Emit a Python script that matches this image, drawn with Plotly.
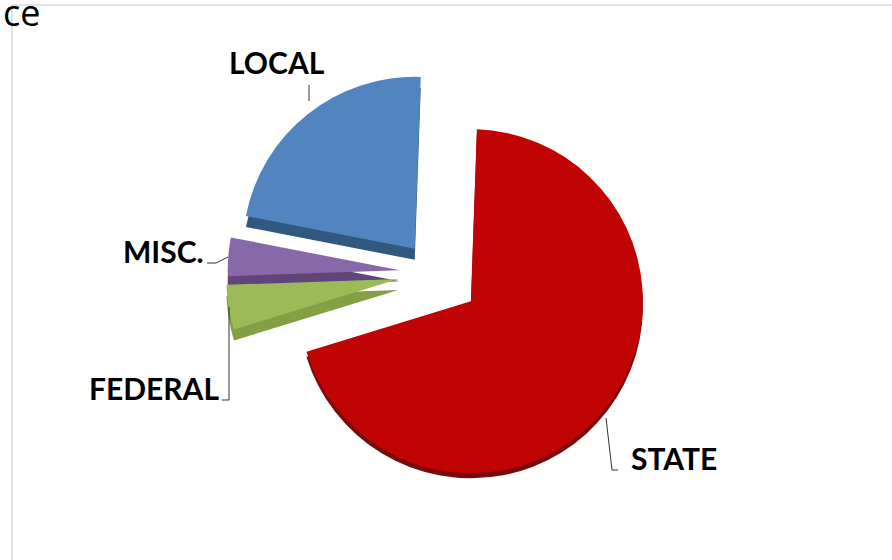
import plotly.graph_objects as go

W, H = 892, 560
categories = ["STATE", "FEDERAL", "MISC.", "LOCAL"]
values = [69.7, 4.2, 3.6, 22.5]
colors = ["#C00404", "#9BBB59", "#8868A8", "#5285BF"]
rims = ["#7A0A0A", "#84A044", "#5F4579", "#31587F"]
pulls = [0.27, 0.21, 0.2, 0.18]

CX, CY, R = 434, 273, 172
outer = R * (1 + max(pulls))


def dom(dy=0):
    return dict(
        x=[(CX - outer) / W, (CX + outer) / W],
        y=[1 - (CY + dy + outer) / H, 1 - (CY + dy - outer) / H],
    )


def pie(cols, dy):
    return go.Pie(
        labels=categories, values=values, sort=False, direction="clockwise",
        rotation=2, pull=pulls, domain=dom(dy), textinfo="none", hoverinfo="label+percent",
        marker=dict(colors=cols, line=dict(width=0)), showlegend=False,
    )


T = "rgba(0,0,0,0)"
fig = go.Figure([
    pie([T, rims[1], rims[2], rims[3]], 11),
    pie([rims[0], T, T, T], 5),
    pie(colors, 0),
])

label_font = dict(family="Lato, Roboto, sans-serif", size=30, color="#000000", weight="bold")
label_pos = [(674, 458), (154, 388), (163, 251), (277, 62)]
leaders = [
    [(606, 418), (612, 470), (618, 470)],
    [(229, 307), (229, 400), (222, 400)],
    [(228, 257), (216, 263), (207, 263)],
    [(309, 85), (309, 101)],
]
shapes = [
    dict(type="line", xref="paper", yref="paper", x0=12 / W, x1=12 / W, y0=0, y1=1 - 5 / H,
         line=dict(color="#C8C8C8", width=1)),
    dict(type="line", xref="paper", yref="paper", x0=12 / W, x1=1, y0=1 - 5 / H, y1=1 - 5 / H,
         line=dict(color="#C8C8C8", width=1)),
]
for pts in leaders:
    path = "M " + " L ".join(f"{x / W} {1 - y / H}" for x, y in pts)
    shapes.append(dict(type="path", xref="paper", yref="paper", path=path,
                       line=dict(color="#333333", width=1)))

annotations = [
    dict(x=x / W, y=1 - y / H, xref="paper", yref="paper", text=t, showarrow=False,
         font=label_font, xanchor="center", yanchor="middle")
    for t, (x, y) in zip(categories, label_pos)
]
annotations.append(dict(x=1 / W, y=1 - 12 / H, xref="paper", yref="paper", text="ce", showarrow=False,
                        font=dict(family="Open Sans, Noto Sans, sans-serif", size=36, color="#000000"),
                        xanchor="left", yanchor="middle"))

fig.update_layout(width=W, height=H, margin=dict(l=0, r=0, t=0, b=0),
                  paper_bgcolor="white", plot_bgcolor="white",
                  shapes=shapes, annotations=annotations)
fig.write_html("out.html", post_script="document.body.style.margin='0';",
               config=dict(displayModeBar=False))
